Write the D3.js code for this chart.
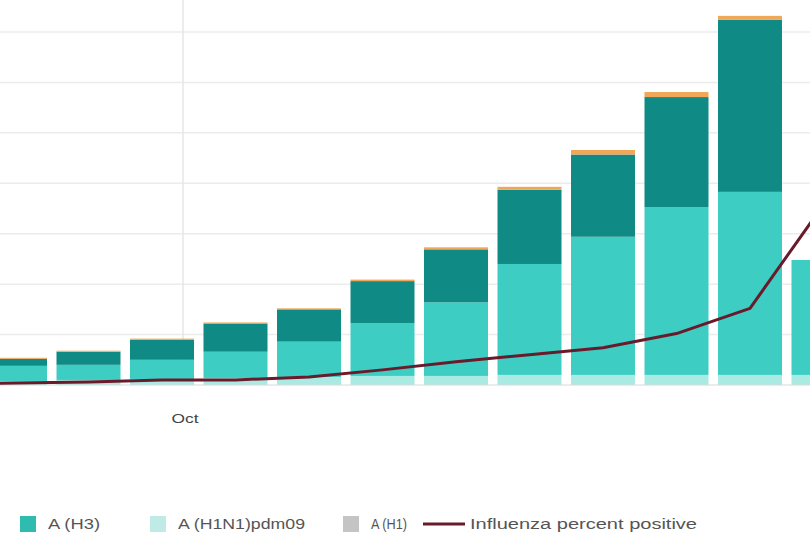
<!DOCTYPE html>
<html>
<head>
<meta charset="utf-8">
<script src="https://cdn.jsdelivr.net/npm/d3@7"></script>
<style>
  body { margin: 0; background: #fff; }
  svg { display: block; font-family: "Liberation Sans", Arial, sans-serif; }
</style>
</head>
<body>
<div id="chart"></div>
<script>
// weekly specimens by subtype (week centre dates); first week sits just off the left edge
var weeks = ['2022-09-08', '2022-09-15', '2022-09-22', '2022-09-29', '2022-10-06', '2022-10-13', '2022-10-20',
	'2022-10-27', '2022-11-03', '2022-11-10', '2022-11-17', '2022-11-24', '2022-12-01'];
var h1n1pdm09 = [30, 40, 50, 60, 70, 80, 90, 90, 100, 100, 100, 100, 100];
var h1 = [0, 0, 0, 0, 0, 0, 0, 0, 0, 0, 0, 0, 0];
var h3 = [120, 150, 150, 190, 260, 350, 525, 730, 1100, 1370, 1665, 1815, 1140];
var notSubtyped = [50, 70, 130, 200, 280, 320, 415, 525, 735, 815, 1090, 1705, 0];
var fluB = [10, 10, 10, 10, 10, 10, 15, 20, 30, 45, 50, 40, 0];
var percentPositive = [0.1, 0.2, 0.3, 0.5, 0.5, 0.8, 1.5, 2.3, 3.0, 3.7, 5.1, 7.6, 17.9];

var yTicks = [500, 1000, 1500, 2000, 2500, 3000, 3500];
var xTickDates = ['2022-10-01'];
var xTickLabels = ['Oct'];

var legendItems = [
	{label: 'A (H3)', color: '#2fbcb0', type: 'box'},
	{label: 'A (H1N1)pdm09', color: '#bfeae5', type: 'box'},
	{label: 'A (H1)', color: '#c4c4c4', type: 'box'},
	{label: 'Influenza percent positive', color: '#6a1b2b', type: 'line'}
];

var width = 810, height = 539;
var parse = d3.timeParse('%Y-%m-%d');

var svg = d3.select('#chart').append('svg')
	.attr('width', width)
	.attr('height', height);

var x = d3.scaleTime()
	.domain([parse(weeks[1]), parse(weeks[weeks.length - 1])])
	.range([15, 823.5]);
var barW = 64;

var y = d3.scaleLinear().domain([0, 3500]).range([385, 32]);
var y2 = d3.scaleLinear().domain([0, 35]).range([385, 32]);

// grid
svg.append('g').selectAll('line').data(yTicks).enter().append('line')
	.attr('x1', 0).attr('x2', width)
	.attr('y1', function(d) { return y(d); })
	.attr('y2', function(d) { return y(d); })
	.attr('stroke', '#ececec')
	.attr('stroke-width', 1.5);

svg.append('g').selectAll('line').data(xTickDates).enter().append('line')
	.attr('x1', function(d) { return x(parse(d)); })
	.attr('x2', function(d) { return x(parse(d)); })
	.attr('y1', 0).attr('y2', y(0))
	.attr('stroke', '#e6e6e6')
	.attr('stroke-width', 1.5);

// stacked bars
var rows = weeks.map(function(w, i) {
	return {week: w, h1n1pdm09: h1n1pdm09[i], h1: h1[i], h3: h3[i], notSubtyped: notSubtyped[i], fluB: fluB[i]};
});
var keys = ['h1n1pdm09', 'h1', 'h3', 'notSubtyped', 'fluB'];
var colors = {h1n1pdm09: '#a9ebe3', h1: '#c4c4c4', h3: '#3dcdc3', notSubtyped: '#0f8a84', fluB: '#f0a858'};

var stack = d3.stack().keys(keys)(rows);

svg.append('g').selectAll('g').data(stack).enter().append('g')
	.attr('fill', function(d) { return colors[d.key]; })
	.selectAll('rect').data(function(d) { return d; }).enter().append('rect')
	.attr('x', function(d) { return x(parse(d.data.week)) - barW / 2; })
	.attr('width', barW)
	.attr('y', function(d) { return y(d[1]); })
	.attr('height', function(d) { return y(d[0]) - y(d[1]); });

// baseline
svg.append('line')
	.attr('x1', 0).attr('x2', width)
	.attr('y1', y(0)).attr('y2', y(0))
	.attr('stroke', '#d8d8d8')
	.attr('stroke-width', 1);

// percent positive line
var line = d3.line()
	.x(function(d, i) { return x(parse(weeks[i])); })
	.y(function(d) { return y2(d); });

svg.append('path')
	.datum(percentPositive)
	.attr('d', line)
	.attr('fill', 'none')
	.attr('stroke', '#6a1b2b')
	.attr('stroke-width', 3)
	.attr('stroke-linejoin', 'round');

// x tick labels
svg.append('g').selectAll('text').data(xTickDates).enter().append('text')
	.attr('x', function(d) { return x(parse(d)) + 2; })
	.attr('y', 423)
	.attr('text-anchor', 'middle')
	.attr('font-size', 13)
	.attr('fill', '#444')
	.attr('textLength', 27)
	.attr('lengthAdjust', 'spacingAndGlyphs')
	.text(function(d, i) { return xTickLabels[i]; });

// legend
var legendX = [20, 150, 343, 423];
var legendTextW = [52, 127, 36, 227];
var lg = svg.append('g').selectAll('g').data(legendItems).enter().append('g')
	.attr('transform', function(d, i) { return 'translate(' + legendX[i] + ',524)'; });

lg.filter(function(d) { return d.type == 'box'; }).append('rect')
	.attr('x', 0).attr('y', -8)
	.attr('width', 16).attr('height', 16)
	.attr('fill', function(d) { return d.color; });

lg.filter(function(d) { return d.type == 'line'; }).append('line')
	.attr('x1', 0).attr('x2', 42)
	.attr('y1', 0).attr('y2', 0)
	.attr('stroke', function(d) { return d.color; })
	.attr('stroke-width', 3);

lg.append('text')
	.attr('x', function(d) { return d.type == 'line' ? 47 : 28; })
	.attr('y', 5)
	.attr('font-size', 14)
	.attr('fill', '#555')
	.attr('textLength', function(d, i) { return legendTextW[i]; })
	.attr('lengthAdjust', 'spacingAndGlyphs')
	.text(function(d) { return d.label; });
</script>
</body>
</html>
